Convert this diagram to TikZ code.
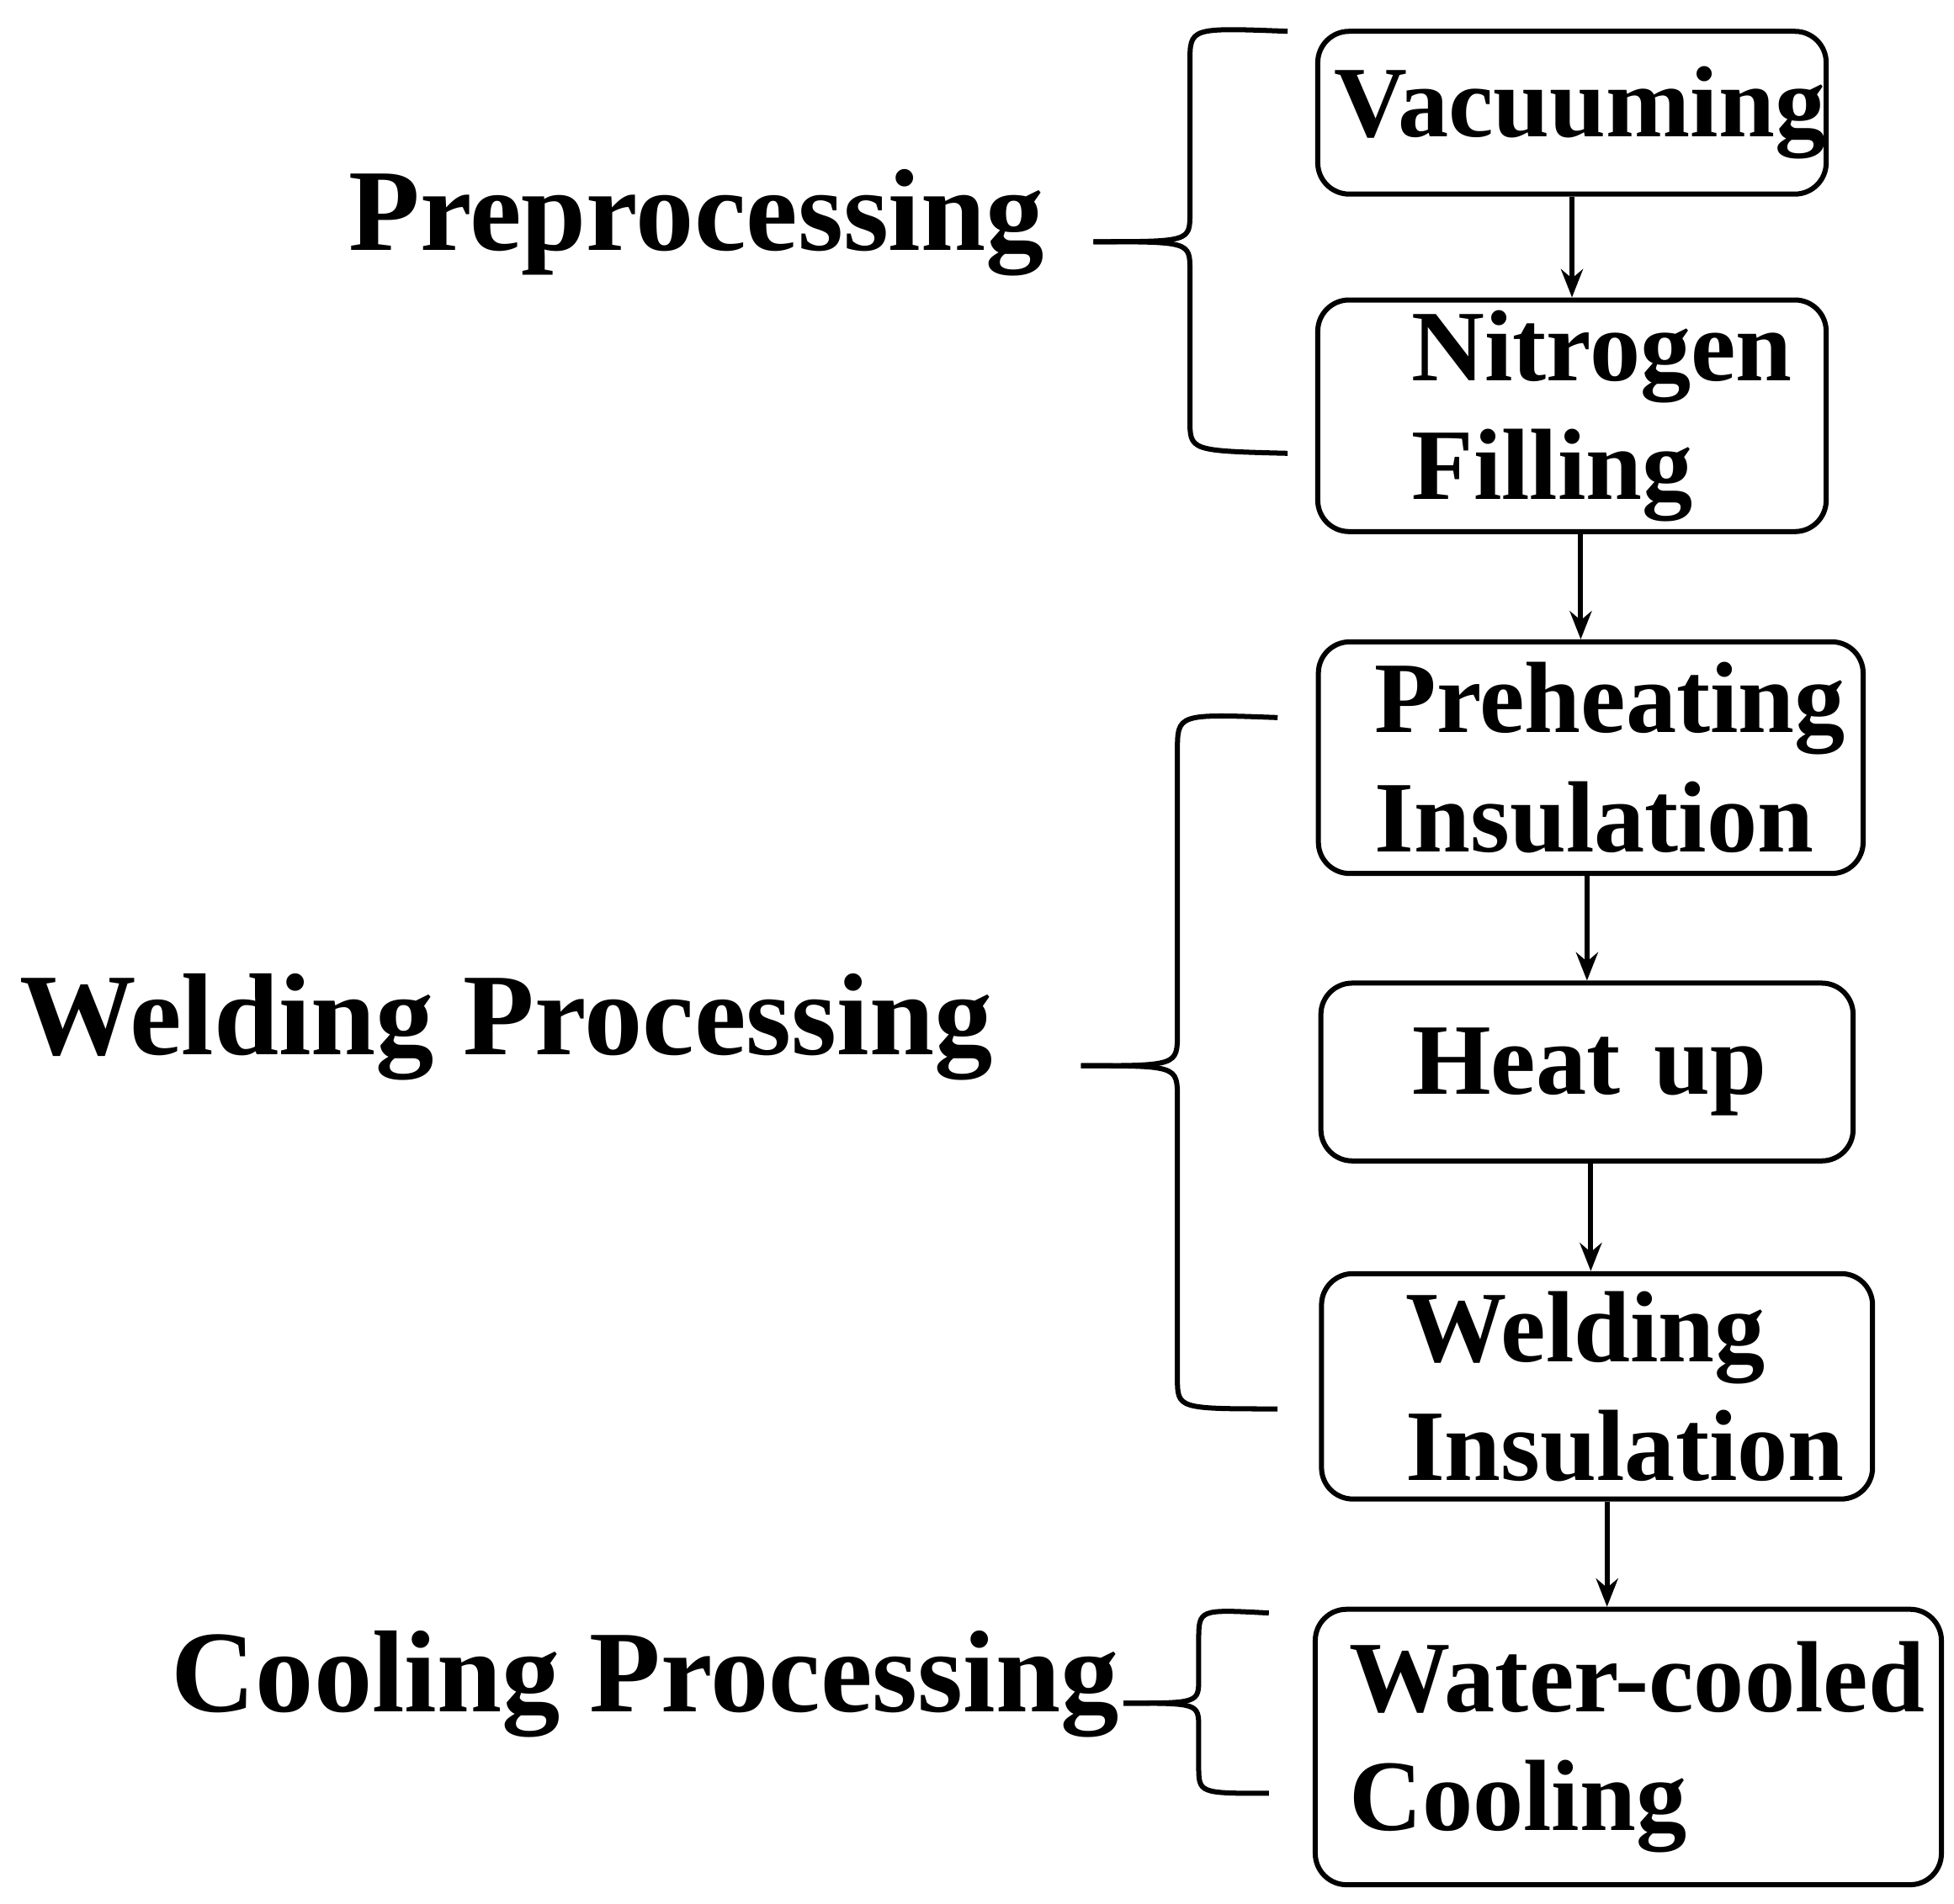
\documentclass[tikz,border=0pt]{standalone}
\usepackage{fontspec}
\setmainfont{Liberation Serif}
\usetikzlibrary{arrows.meta}
\begin{document}
\begin{tikzpicture}[x=0.02cm,y=-0.02cm,
 box/.style={draw,line width=2.3pt,rounded corners=0.5cm,inner sep=0pt,font=\fontsize{46}{54}\selectfont\bfseries,align=left},
 lab/.style={font=\fontsize{53}{60}\selectfont\bfseries},
 arr/.style={line width=2.3pt,-{Stealth[length=0.45cm,width=0.35cm]}},
 br/.style={line width=2.3pt}]
\useasboundingbox (0,0) rectangle (1560,1520);
\node[box,minimum width=8.12cm,text width=8.12cm,minimum height=2.6cm] (v) at (1255,90) {\hspace*{0.26cm}Vacuuming};
\node[box,minimum width=8.12cm,text width=8.12cm,minimum height=3.7cm] (n) at (1255,332) {\hspace*{1.5cm}Nitrogen\\\hspace*{1.5cm}Filling};
\node[box,minimum width=8.7cm,text width=8.7cm,minimum height=3.7cm] (p) at (1270,605) {\hspace*{0.9cm}Preheating\\\hspace*{0.9cm}Insulation};
\node[box,minimum width=8.5cm,text width=8.5cm,minimum height=2.84cm] (h) at (1267,856) {\hspace*{1.46cm}Heat up};
\node[box,minimum width=8.8cm,text width=8.8cm,minimum height=3.6cm] (w) at (1275,1107) {\hspace*{1.34cm}Welding\\\hspace*{1.34cm}Insulation};
\node[box,minimum width=10cm,text width=10cm,minimum height=4.4cm] (c) at (1300,1395) {\hspace*{0.54cm}Water-cooled\\\hspace*{0.54cm}Cooling};
\draw[arr] (v.south -| 1255,0) -- (n.north -| 1255,0);
\draw[arr] (n.south -| 1262,0) -- (p.north -| 1262,0);
\draw[arr] (p.south -| 1267,0) -- (h.north -| 1267,0);
\draw[arr] (h.south -| 1270,0) -- (w.north -| 1270,0);
\draw[arr] (w.south -| 1283,0) -- (c.north -| 1283,0);
\node[lab] (l1) at (556,178) {Preprocessing};
\node[lab] (l2) at (404,820) {Welding Processing};
\node[lab] (l3) at (515,1345) {Cooling Processing};
\coordinate (t1) at (873,193);
\coordinate (t2) at (863,851);
\coordinate (t3) at (897,1360);
\draw[br] (1028,25) .. controls (950,22) .. (950,50) -- (950,170) .. controls (950,193) .. (t1);
\draw[br] (t1) .. controls (950,193) .. (950,216) -- (950,335) .. controls (950,360) .. (1028,362);
\draw[br] (1020,573) .. controls (940,570) .. (940,600) -- (940,825) .. controls (940,851) .. (t2);
\draw[br] (t2) .. controls (940,851) .. (940,877) -- (940,1100) .. controls (940,1125) .. (1020,1125);
\draw[br] (1013,1288) .. controls (957,1285) .. (957,1310) -- (957,1340) .. controls (957,1360) .. (t3);
\draw[br] (t3) .. controls (957,1360) .. (957,1380) -- (957,1410) .. controls (957,1432) .. (1013,1432);
\end{tikzpicture}
\end{document}
